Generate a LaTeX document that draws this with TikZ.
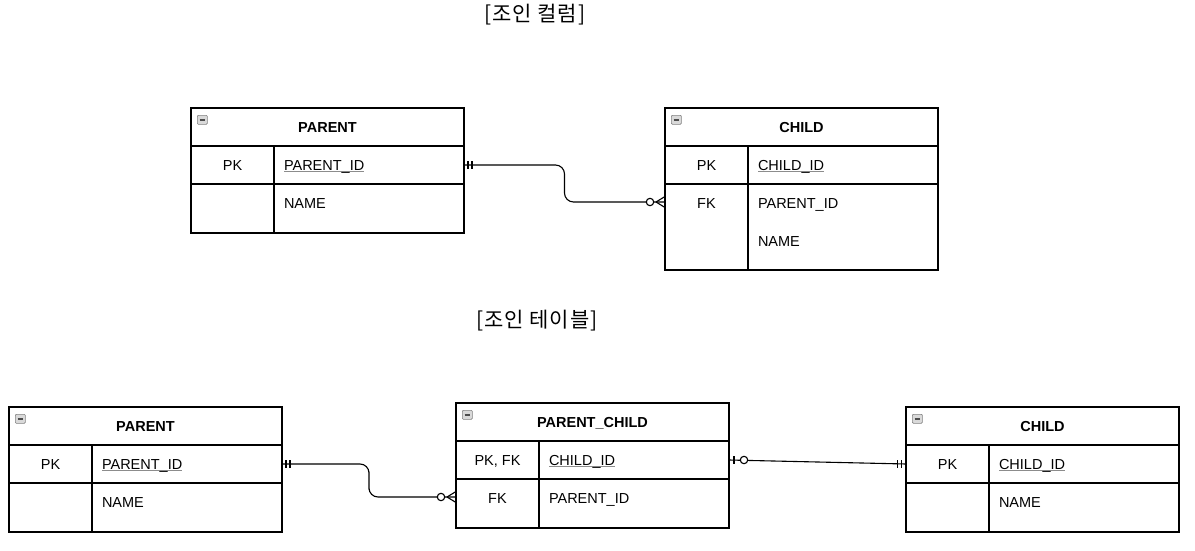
\documentclass[tikz,border=0pt]{standalone}
\usepackage{fontspec}
\setmainfont{Liberation Sans}
\newfontfamily\korfont[LetterSpace=4]{Noto Sans CJK KR}
\usetikzlibrary{positioning,calc}

\newcommand{\keyname}[1]{\setbox0\hbox{#1}\rlap{\color{black!45}\rule[-2.2pt]{\wd0}{1.4pt}}\box0}

\begin{document}
\begin{tikzpicture}[x=1pt,y=-1pt]
  \tikzset{cell/.style={draw, line width=1.1pt, outer sep=0pt, inner xsep=0pt,
      inner ysep=0pt, font=\fontsize{14.5}{17}\selectfont, text height=24pt,
      text depth=14pt},
    header/.style={cell, minimum width=273pt,
      font=\bfseries\fontsize{14.5}{17}\selectfont},
    keycell/.style={cell, minimum width=83pt},
    fieldcell/.style={cell, inner xsep=10pt, text width=170pt, align=left},
    tall/.style={text depth=25pt},
    taller/.style={text depth=62pt},
    icon/.style={draw=black!50, fill=black!15, line width=0.7pt, minimum width=10pt,
      minimum height=9pt, inner sep=0pt, rounded corners=1pt,
      path picture={\draw[line width=1.6pt, black!70]
        ([xshift=2.2pt]path picture bounding box.west) --
        ([xshift=-2.2pt]path picture bounding box.east);}},
    title/.style={font=\korfont\fontsize{21}{24}\selectfont},
    conn/.style={draw, line width=1.1pt}}
  \useasboundingbox (0,0) rectangle (1195,551);

  % join column
  \node[title] (t1) at (535,15) {[조인 컬럼]};

  \node[header] (p1) at (327.5,127) {PARENT};
  \node[icon, below right=7pt and 6pt of p1.north west] (p1i) {};
  \node[keycell, below right=0pt and 0pt of p1.south west] (p1k1) {PK};
  \node[fieldcell, right=0pt of p1k1] (p1f1) {\keyname{PARENT\_ID}};
  \node[keycell, tall, below=0pt of p1k1] (p1k2) {};
  \node[fieldcell, tall, right=0pt of p1k2] (p1f2) {NAME};

  \node[header] (c1) at (801.5,127) {CHILD};
  \node[icon, below right=7pt and 6pt of c1.north west] (c1i) {};
  \node[keycell, below right=0pt and 0pt of c1.south west] (c1k1) {PK};
  \node[fieldcell, right=0pt of c1k1] (c1f1) {\keyname{CHILD\_ID}};
  \node[keycell, taller, below=0pt of c1k1] (c1k2) {FK};
  \node[fieldcell, taller, right=0pt of c1k2] (c1f2) {PARENT\_ID\\[21.5pt]NAME};

  \coordinate (c1fk) at ($(c1k2.north west)+(0,18)$);
  \path[conn, rounded corners=9pt] (p1f1.east) -| ($(p1f1.east)!.5!(c1fk)$) |- (c1fk);
  \draw[conn] ([xshift=4pt]p1f1.east) ++(0,-4) -- ++(0,8);
  \draw[conn] ([xshift=8pt]p1f1.east) ++(0,-4) -- ++(0,8);
  \draw[conn] ([xshift=-9pt]c1fk) -- ++(9,-5.5) ([xshift=-9pt]c1fk) -- ++(9,5.5);
  \draw[conn, fill=white] ([xshift=-15pt]c1fk) circle (3.7pt);

  % join table
  \node[title] (t2) at (537,321) {[조인 테이블]};

  \node[header] (p2) at (145.5,426) {PARENT};
  \node[icon, below right=7pt and 6pt of p2.north west] (p2i) {};
  \node[keycell, below right=0pt and 0pt of p2.south west] (p2k1) {PK};
  \node[fieldcell, right=0pt of p2k1] (p2f1) {\keyname{PARENT\_ID}};
  \node[keycell, tall, below=0pt of p2k1] (p2k2) {};
  \node[fieldcell, tall, right=0pt of p2k2] (p2f2) {NAME};

  \node[header] (pc) at (592.5,422) {PARENT\_CHILD};
  \node[icon, below right=7pt and 6pt of pc.north west] (pci) {};
  \node[keycell, below right=0pt and 0pt of pc.south west] (pck1) {PK, FK};
  \node[fieldcell, right=0pt of pck1] (pcf1) {\keyname{CHILD\_ID}};
  \node[keycell, tall, below=0pt of pck1] (pck2) {FK};
  \node[fieldcell, tall, right=0pt of pck2] (pcf2) {PARENT\_ID};

  \node[header] (c2) at (1042.5,426) {CHILD};
  \node[icon, below right=7pt and 6pt of c2.north west] (c2i) {};
  \node[keycell, below right=0pt and 0pt of c2.south west] (c2k1) {PK};
  \node[fieldcell, right=0pt of c2k1] (c2f1) {\keyname{CHILD\_ID}};
  \node[keycell, tall, below=0pt of c2k1] (c2k2) {};
  \node[fieldcell, tall, right=0pt of c2k2] (c2f2) {NAME};

  \coordinate (pcfk) at ($(pck2.north west)+(0,18)$);
  \path[conn, rounded corners=9pt] (p2f1.east) -| ($(p2f1.east)!.5!(pcfk)$) |- (pcfk);
  \draw[conn] ([xshift=4pt]p2f1.east) ++(0,-4) -- ++(0,8);
  \draw[conn] ([xshift=8pt]p2f1.east) ++(0,-4) -- ++(0,8);
  \draw[conn] ([xshift=-9pt]pcfk) -- ++(9,-5.5) ([xshift=-9pt]pcfk) -- ++(9,5.5);
  \draw[conn, fill=white] ([xshift=-15pt]pcfk) circle (3.7pt);

  \path[conn] (pcf1.east) -- (c2k1.west);
  \draw[conn] ([xshift=5pt]pcf1.east) ++(0,-4) -- ++(0,8);
  \draw[conn, fill=white] ([xshift=15pt]pcf1.east) circle (3.7pt);
  \draw[conn] ([xshift=-4.5pt]c2k1.west) ++(0,-4) -- ++(0,8);
  \draw[conn] ([xshift=-8.5pt]c2k1.west) ++(0,-4) -- ++(0,8);
\end{tikzpicture}
\end{document}
